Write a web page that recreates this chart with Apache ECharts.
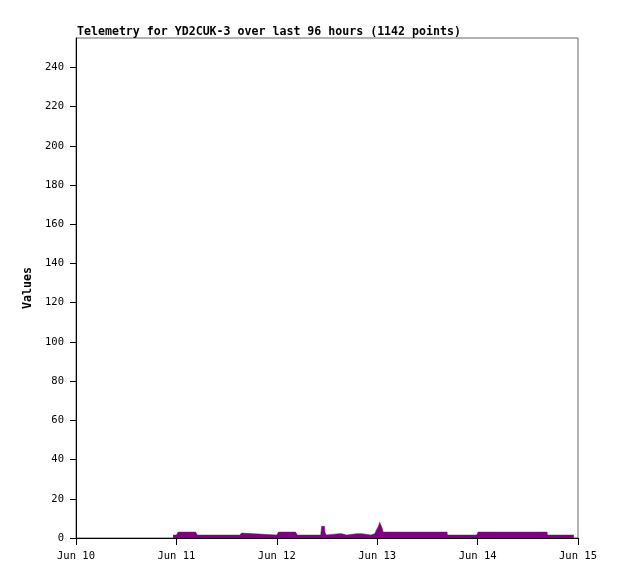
<!DOCTYPE html>
<html>
<head>
<meta charset="utf-8">
<style>html,body{margin:0;padding:0;background:#fff;}#c{width:618px;height:579px;}</style>
<script src="https://cdn.jsdelivr.net/npm/echarts@6/dist/echarts.min.js"></script>
</head>
<body>
<div id="c"></div>
<script>
// hours since Jun 10 00:00
var hours = [23.2, 24.0, 24.1, 24.4, 28.6, 28.8, 29.0, 39.1, 39.2, 39.6, 39.7,
  48.0, 48.1, 48.4, 52.5, 52.7, 52.9, 58.5, 58.7, 59.4, 59.5, 59.7, 59.8,
  60.1, 60.2, 62.9, 63.0, 63.1, 63.5, 63.6, 64.7, 64.8, 67.0, 67.1, 67.3,
  68.4, 68.5, 70.5, 70.6, 71.4, 71.5, 71.9, 72.3, 72.6, 72.9, 73.2, 73.4,
  88.7, 88.8, 95.8, 96.0, 96.1, 112.6, 112.7, 119.0];
var values = [1.5, 1.5, 2, 3, 3, 2, 1.5, 1.5, 2.5, 2.5, 1.5,
  1.5, 2, 3, 3, 2, 1.5, 1.5, 6, 6, 3, 3, 1.5,
  1.5, 2.2, 2.2, 1.5, 2.2, 2.2, 1.5, 1.5, 2.2, 2.2, 1.5, 2.2,
  2.2, 1.5, 1.5, 2.2, 2.2, 3, 4.5, 6, 8, 7, 5, 3,
  3, 1.5, 1.5, 2, 3, 3, 1.5, 1.5];
var xTickHours = [0, 24, 48, 72, 96, 120];
var xTickLabels = ['Jun 10', 'Jun 11', 'Jun 12', 'Jun 13', 'Jun 14', 'Jun 15'];
var yTicks = [0, 20, 40, 60, 80, 100, 120, 140, 160, 180, 200, 220, 240];
var titleText = 'Telemetry for YD2CUK-3 over last 96 hours (1142 points)';

var seriesData = hours.map(function (h, i) { return [h, values[i]]; });
var font = 'DejaVu Sans Mono';
var chart = echarts.init(document.getElementById('c'), null, {renderer: 'canvas'});
chart.setOption({
  animation: false,
  backgroundColor: '#fff',
  title: {
    text: titleText, left: 77, top: 26, padding: 0,
    textStyle: {fontFamily: font, fontSize: 11.6, fontWeight: 'bold', color: '#000'}
  },
  grid: {left: 76, top: 38, width: 502, height: 500, show: true, borderColor: '#666', borderWidth: 1, backgroundColor: 'transparent'},
  xAxis: {
    type: 'value', min: 0, max: 120, interval: 24,
    axisLine: {lineStyle: {color: '#000', width: 1}},
    axisTick: {show: true, length: 7, lineStyle: {color: '#000'}},
    splitLine: {show: false},
    axisLabel: {
      margin: 13, color: '#000', fontFamily: font, fontSize: 10.5,
      formatter: function (v) { var i = xTickHours.indexOf(v); return i >= 0 ? xTickLabels[i] : ''; }
    }
  },
  yAxis: {
    type: 'value', min: 0, max: 255,
    name: 'Values', nameLocation: 'middle', nameGap: 35,
    nameTextStyle: {fontFamily: font, fontSize: 11.6, fontWeight: 'bold', color: '#000'},
    axisLine: {show: true, lineStyle: {color: '#000', width: 1}},
    axisTick: {show: true, length: 6, lineStyle: {color: '#000'}, customValues: yTicks},
    splitLine: {show: false},
    axisLabel: {margin: 12, color: '#000', fontFamily: font, fontSize: 10.5, customValues: yTicks}
  },
  series: [{
    type: 'line', data: seriesData, symbol: 'none', smooth: false, step: false,
    sampling: null, showSymbol: false,
    lineStyle: {color: '#800080', width: 0.5},
    areaStyle: {color: '#800080', opacity: 1},
    z: 1
  }]
});
</script>
</body>
</html>
